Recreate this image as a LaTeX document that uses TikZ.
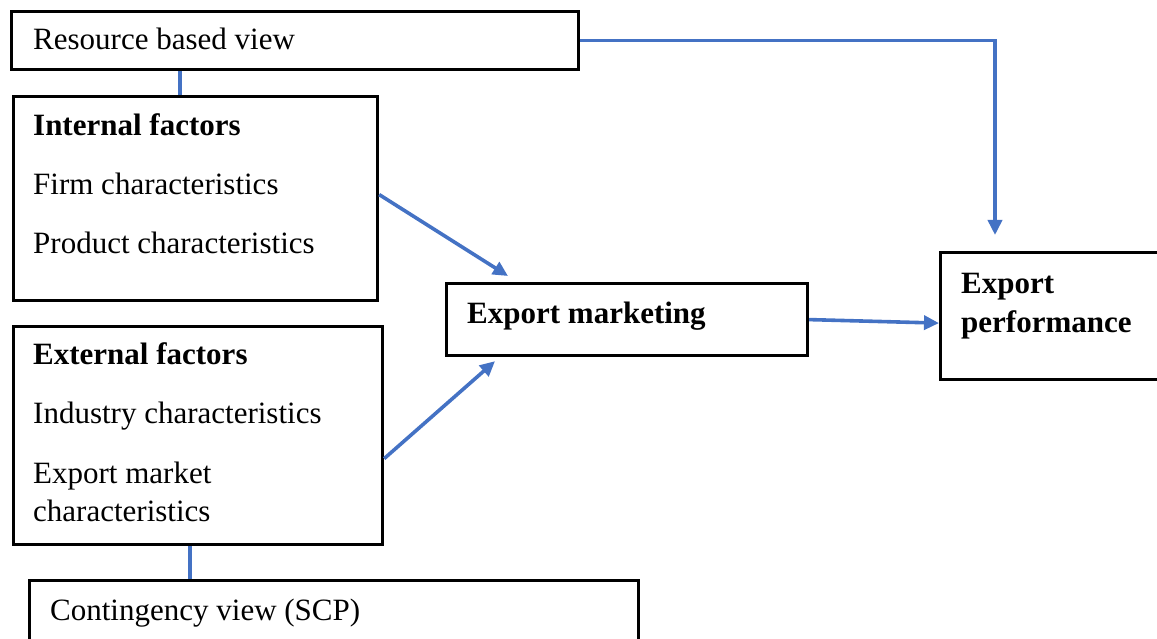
\documentclass[tikz,border=0pt]{standalone}
\usepackage{fontspec}
\setmainfont{Liberation Serif}
\usetikzlibrary{arrows.meta}
\definecolor{conblue}{RGB}{68,114,196}
\tikzset{
  box/.style={draw=black, line width=3.2pt, fill=white, anchor=north west, inner sep=0pt},
  txt/.style={anchor=base west, inner sep=0pt, font=\fontsize{31}{37}\selectfont},
  btxt/.style={txt, font=\fontsize{31}{37}\selectfont\bfseries},
  con/.style={draw=conblue, line width=3.6pt},
  arr/.style={con, -{Triangle[length=15pt,width=14pt]}},
}
\begin{document}
\begin{tikzpicture}[x=1pt,y=-1pt]
\useasboundingbox (0,0) rectangle (1157,639);
% boxes
\node[box, minimum width=567pt, minimum height=58pt] (rbv) at (10,10) {};
\node[box, minimum width=364pt, minimum height=204pt] (int) at (12,95) {};
\node[box, minimum width=369pt, minimum height=218pt] (ext) at (12,325) {};
\node[box, minimum width=609pt, minimum height=70pt] (cont) at (28,579) {};
\node[box, minimum width=361pt, minimum height=72pt] (em) at (445,282) {};
\node[box, minimum width=225pt, minimum height=127pt] (ep) at (939,251) {};
% texts
\node[txt] (trbv) at (33,50) {Resource based view};
\node[btxt] (tint) at (33,136) {Internal factors};
\node[txt] (tfirm) at (33,195) {Firm characteristics};
\node[txt] (tprod) at (33,254) {Product characteristics};
\node[btxt] (text) at (33,364) {External factors};
\node[txt] (tind) at (33,423) {Industry characteristics};
\node[txt] (texm1) at (33,483) {Export market};
\node[txt] (texm2) at (33,521) {characteristics};
\node[txt] (tcont) at (50,620) {Contingency view (SCP)};
\node[btxt] (tem) at (467,323) {Export marketing};
\node[btxt] (tep1) at (961,293) {Export};
\node[btxt] (tep2) at (961,332) {performance};
% connectors
\draw[con] ([xshift=170pt]rbv.south west) -- ([xshift=168pt]int.north west);
\draw[con] ([xshift=178pt]ext.south west) -- ([xshift=162pt]cont.north west);
\draw[arr] (rbv.east) -| ([xshift=56pt,yshift=16pt]ep.north west);
\draw[arr] ([yshift=4pt]int.east) -- ([xshift=63pt,yshift=6pt]em.north west);
\draw[arr] ([yshift=-23pt]ext.east) -- ([xshift=50pt,yshift=-4pt]em.south west);
\draw[arr] (em.east) -- ([yshift=-7pt]ep.west);
\end{tikzpicture}
\end{document}
